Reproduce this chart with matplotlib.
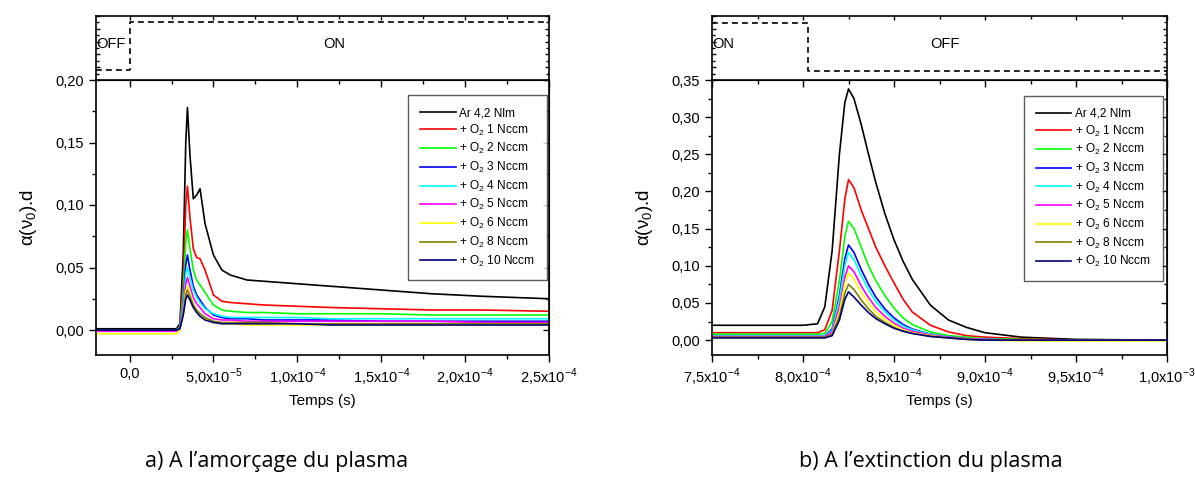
import matplotlib
matplotlib.use("Agg")
import matplotlib.pyplot as plt
from matplotlib.ticker import FixedLocator, MultipleLocator

plt.rcParams["font.family"] = ["Liberation Sans", "DejaVu Sans"]

# left panel: plasma ignition (time in s)
t_on = [-2.0e-5, 2.8e-5, 3.0e-5, 3.2e-5, 3.35e-5, 3.45e-5, 3.6e-5, 3.8e-5, 4.0e-5, 4.2e-5, 4.5e-5,
        5.0e-5, 5.5e-5, 6.0e-5, 7.0e-5, 8.0e-5, 1.0e-4, 1.2e-4, 1.5e-4, 1.8e-4, 2.1e-4, 2.5e-4]
on_ar = [0.001, 0.001, 0.005, 0.060, 0.150, 0.178, 0.140, 0.105, 0.108, 0.113, 0.085,
         0.060, 0.048, 0.044, 0.040, 0.039, 0.037, 0.035, 0.032, 0.029, 0.027, 0.025]
on_o2_1 = [0.0, 0.0, 0.003, 0.040, 0.100, 0.115, 0.090, 0.065, 0.058, 0.057, 0.048,
           0.028, 0.023, 0.022, 0.021, 0.020, 0.019, 0.018, 0.017, 0.016, 0.016, 0.015]
on_o2_2 = [0.0, 0.0, 0.002, 0.030, 0.070, 0.080, 0.065, 0.048, 0.040, 0.036, 0.030,
           0.020, 0.016, 0.015, 0.014, 0.014, 0.013, 0.013, 0.013, 0.012, 0.012, 0.012]
on_o2_3 = [0.0, 0.0, 0.002, 0.022, 0.052, 0.060, 0.048, 0.035, 0.028, 0.024, 0.018,
           0.012, 0.010, 0.009, 0.009, 0.008, 0.008, 0.008, 0.007, 0.007, 0.007, 0.007]
on_o2_4 = [0.0, 0.0, 0.002, 0.020, 0.045, 0.050, 0.042, 0.032, 0.026, 0.022, 0.017,
           0.013, 0.011, 0.010, 0.010, 0.010, 0.010, 0.009, 0.009, 0.009, 0.009, 0.009]
on_o2_5 = [-0.001, -0.001, 0.001, 0.017, 0.037, 0.042, 0.035, 0.026, 0.021, 0.018, 0.013,
           0.009, 0.008, 0.008, 0.007, 0.007, 0.007, 0.007, 0.007, 0.007, 0.006, 0.006]
on_o2_6 = [-0.003, -0.003, 0.0, 0.014, 0.031, 0.035, 0.029, 0.021, 0.016, 0.013, 0.009,
           0.006, 0.005, 0.005, 0.004, 0.004, 0.004, 0.004, 0.004, 0.004, 0.004, 0.004]
on_o2_8 = [0.0, 0.0, 0.001, 0.013, 0.028, 0.032, 0.027, 0.020, 0.016, 0.013, 0.010,
           0.007, 0.006, 0.006, 0.006, 0.006, 0.005, 0.005, 0.005, 0.005, 0.005, 0.005]
on_o2_10 = [0.0, 0.0, 0.001, 0.012, 0.025, 0.028, 0.024, 0.018, 0.014, 0.011, 0.008,
            0.006, 0.005, 0.005, 0.005, 0.005, 0.005, 0.004, 0.004, 0.004, 0.004, 0.004]

# right panel: plasma extinction
t_off = [7.50e-4, 8.00e-4, 8.08e-4, 8.12e-4, 8.16e-4, 8.20e-4, 8.23e-4, 8.25e-4, 8.28e-4, 8.32e-4,
         8.36e-4, 8.40e-4, 8.45e-4, 8.50e-4, 8.55e-4, 8.60e-4, 8.70e-4, 8.80e-4, 8.90e-4, 9.00e-4,
         9.20e-4, 9.50e-4, 1.0e-3]
off_ar = [0.020, 0.020, 0.022, 0.045, 0.120, 0.250, 0.320, 0.338, 0.325, 0.290,
          0.250, 0.212, 0.170, 0.135, 0.106, 0.082, 0.047, 0.027, 0.017, 0.010,
          0.004, 0.001, 0.000]
off_o2_1 = [0.010, 0.010, 0.010, 0.014, 0.040, 0.120, 0.190, 0.216, 0.205, 0.175,
            0.150, 0.125, 0.100, 0.077, 0.055, 0.038, 0.020, 0.011, 0.006, 0.004,
            0.002, 0.000, 0.000]
off_o2_2 = [0.008, 0.008, 0.008, 0.009, 0.025, 0.080, 0.140, 0.160, 0.150, 0.125,
            0.100, 0.080, 0.060, 0.043, 0.030, 0.021, 0.011, 0.006, 0.004, 0.002,
            0.001, 0.000, 0.000]
off_o2_3 = [0.005, 0.005, 0.005, 0.006, 0.015, 0.060, 0.110, 0.128, 0.118, 0.095,
            0.075, 0.058, 0.042, 0.030, 0.021, 0.015, 0.008, 0.004, 0.002, 0.001,
            0.000, 0.000, 0.000]
off_o2_4 = [0.006, 0.006, 0.006, 0.006, 0.013, 0.055, 0.100, 0.118, 0.108, 0.087,
            0.068, 0.052, 0.038, 0.027, 0.019, 0.014, 0.008, 0.004, 0.002, 0.001,
            0.000, 0.000, 0.000]
off_o2_5 = [0.005, 0.005, 0.005, 0.005, 0.011, 0.045, 0.085, 0.100, 0.092, 0.073,
            0.057, 0.044, 0.032, 0.023, 0.016, 0.012, 0.007, 0.004, 0.002, 0.001,
            0.000, 0.000, 0.000]
off_o2_6 = [0.003, 0.003, 0.003, 0.003, 0.008, 0.038, 0.076, 0.090, 0.082, 0.064,
            0.050, 0.038, 0.028, 0.020, 0.014, 0.010, 0.006, 0.003, 0.001, 0.000,
            -0.001, -0.001, -0.001]
off_o2_8 = [0.004, 0.004, 0.004, 0.004, 0.008, 0.032, 0.063, 0.075, 0.068, 0.054,
            0.042, 0.032, 0.024, 0.017, 0.012, 0.009, 0.005, 0.003, 0.001, 0.000,
            0.000, 0.000, 0.000]
off_o2_10 = [0.003, 0.003, 0.003, 0.003, 0.006, 0.027, 0.055, 0.065, 0.058, 0.047,
             0.037, 0.029, 0.022, 0.016, 0.012, 0.009, 0.005, 0.003, 0.001, 0.000,
             0.000, 0.000, 0.000]

labels = ["Ar 4,2 Nlm"] + [r"+ O$_\mathregular{2}$ %s Nccm" % n for n in ("1", "2", "3", "4", "5", "6", "8", "10")]
colors = ["black", "#FF0000", "#00FF00", "#0000FF", "#00FFFF", "#FF00FF", "#FFFF00", "#808000", "#000080"]

on_series = [on_ar, on_o2_1, on_o2_2, on_o2_3, on_o2_4, on_o2_5, on_o2_6, on_o2_8, on_o2_10]
off_series = [off_ar, off_o2_1, off_o2_2, off_o2_3, off_o2_4, off_o2_5, off_o2_6, off_o2_8, off_o2_10]

on_xticks = [0.0, 5e-5, 1e-4, 1.5e-4, 2e-4, 2.5e-4]
on_xlabels = ["0,0", "5,0x10$^\\mathregular{-5}$", "1,0x10$^\\mathregular{-4}$",
              "1,5x10$^\\mathregular{-4}$", "2,0x10$^\\mathregular{-4}$", "2,5x10$^\\mathregular{-4}$"]
off_xticks = [7.5e-4, 8.0e-4, 8.5e-4, 9.0e-4, 9.5e-4, 1.0e-3]
off_xlabels = ["7,5x10$^\\mathregular{-4}$", "8,0x10$^\\mathregular{-4}$", "8,5x10$^\\mathregular{-4}$",
               "9,0x10$^\\mathregular{-4}$", "9,5x10$^\\mathregular{-4}$", "1,0x10$^\\mathregular{-3}$"]
on_yticks = [0.0, 0.05, 0.10, 0.15, 0.20]
off_yticks = [0.0, 0.05, 0.10, 0.15, 0.20, 0.25, 0.30, 0.35]

W, H = 1195, 479
fig = plt.figure(figsize=(W / 100, H / 100), dpi=100)


def px_rect(x0, y0, x1, y1):
    return [x0 / W, (H - y1) / H, (x1 - x0) / W, (y1 - y0) / H]


def panel(x0, x1, t, series, xlim, ylim, xticks, xlabels, yticks,
          step_t, levels, words, caption, cap_x, leg_anchor):
    ax = fig.add_axes(px_rect(x0, 80, x1, 355))
    for y, c, lab in zip(series, colors, labels):
        ax.plot(t, y, color=c, lw=1.2, label=lab)
    ax.set_xlim(*xlim)
    ax.set_ylim(*ylim)
    ax.xaxis.set_major_locator(FixedLocator(xticks))
    ax.set_xticklabels(xlabels)
    ax.xaxis.set_minor_locator(MultipleLocator(2.5e-5))
    ax.yaxis.set_major_locator(FixedLocator(yticks))
    ax.set_yticklabels([("%.2f" % v).replace(".", ",") for v in yticks])
    ax.yaxis.set_minor_locator(MultipleLocator(0.025))
    ax.tick_params(which="major", direction="out", length=5, width=1, labelsize=10.5)
    ax.tick_params(which="minor", direction="out", length=3, width=1)
    for s in ax.spines.values():
        s.set_linewidth(1.2)
    ax.set_xlabel("Temps (s)", fontsize=11, labelpad=4)
    ax.set_ylabel("α(ν$_\\mathregular{0}$).d", fontsize=13.5, labelpad=12)

    right = ax.secondary_yaxis("right")
    right.yaxis.set_major_locator(FixedLocator(yticks))
    right.yaxis.set_minor_locator(MultipleLocator(0.025))
    right.tick_params(which="both", direction="in", labelright=False, width=1)
    right.tick_params(which="major", length=4)
    right.tick_params(which="minor", length=2)
    top = ax.secondary_xaxis("top")
    top.xaxis.set_major_locator(FixedLocator(xticks))
    top.xaxis.set_minor_locator(MultipleLocator(2.5e-5))
    top.tick_params(which="both", direction="in", labeltop=False, width=1)
    top.tick_params(which="major", length=5)
    top.tick_params(which="minor", length=3)

    leg = ax.legend(loc="upper right", bbox_to_anchor=leg_anchor, fontsize=8.6, frameon=True,
                    fancybox=False, handlelength=3.0, labelspacing=0.3, borderpad=1.0,
                    handletextpad=0.3, borderaxespad=0.0)
    leg.get_frame().set_edgecolor("#333333")
    leg.get_frame().set_linewidth(1.0)

    strip = fig.add_axes(px_rect(x0, 16, x1, 80))
    strip.set_xlim(*xlim)
    strip.set_ylim(0, 1)
    strip.plot([xlim[0], step_t, step_t, xlim[1]],
               [levels[0], levels[0], levels[1], levels[1]],
               color="black", ls=(0, (3.5, 2.5)), lw=1.2)
    strip.xaxis.set_major_locator(FixedLocator(xticks))
    strip.xaxis.set_minor_locator(MultipleLocator(2.5e-5))
    strip.yaxis.set_major_locator(MultipleLocator(0.2))
    strip.yaxis.set_minor_locator(MultipleLocator(0.1))
    strip.tick_params(which="both", direction="in", bottom=False, top=True, left=True, right=True,
                      labelbottom=False, labelleft=False, width=1)
    strip.tick_params(which="major", length=3)
    strip.tick_params(which="minor", length=2)
    for s in strip.spines.values():
        s.set_linewidth(1.2)
    strip.text(xlim[0], 0.57, words[0], ha="left", va="center", fontsize=10.5)
    strip.text(words[2], 0.57, words[1], ha="center", va="center", fontsize=10.5)

    fig.text(cap_x / W, 1 - 461 / H, caption, ha="center", va="center",
             fontsize=15.5, family=["Open Sans", "DejaVu Sans"])
    return ax


panel(96, 549, t_on, on_series, (-2e-5, 2.5e-4), (-0.02, 0.20), on_xticks, on_xlabels, on_yticks,
      0.0, (0.156, 0.906), ("OFF", "ON", 1.22e-4), "a) A l’amorçage du plasma", 277, (0.996, 0.945))
panel(712, 1167, t_off, off_series, (7.5e-4, 1.0e-3), (-0.02, 0.35), off_xticks, off_xlabels, off_yticks,
      8.03e-4, (0.89, 0.14), ("ON", "OFF", 8.78e-4), "b) A l’extinction du plasma", 931, (0.991, 0.942))

fig.savefig("out.png", dpi=100)
